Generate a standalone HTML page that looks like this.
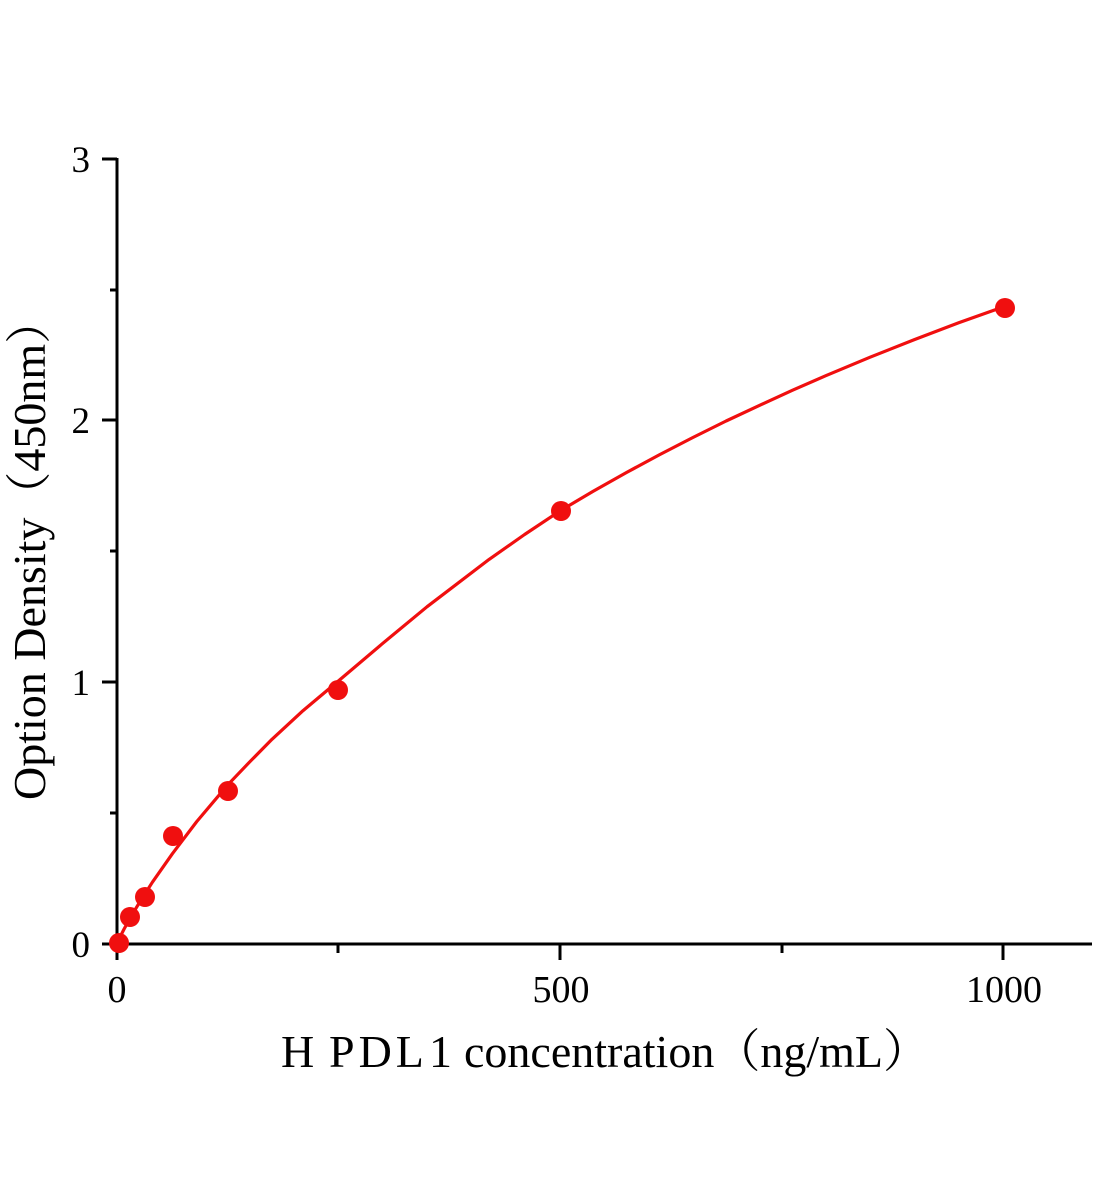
<!DOCTYPE html>
<html>
<head>
<meta charset="utf-8">
<style>
  html, body { margin: 0; padding: 0; background: #fff; }
  svg { display: block; }
  text { font-family: "Liberation Serif", "Noto Serif CJK SC", "Noto Sans CJK SC", serif; fill: #000; }
</style>
</head>
<body>
<svg width="1104" height="1200" viewBox="0 0 1104 1200" xmlns="http://www.w3.org/2000/svg">
  <rect width="1104" height="1200" fill="#fff"/>

  <!-- axes -->
  <g stroke="#000" stroke-width="3" fill="none">
    <line x1="117" y1="158" x2="117" y2="945"/>
    <line x1="102" y1="944" x2="1092" y2="944"/>
    <!-- y major ticks -->
    <line x1="102" y1="159" x2="117" y2="159"/>
    <line x1="102" y1="420" x2="117" y2="420"/>
    <line x1="102" y1="682" x2="117" y2="682"/>
    <!-- y minor ticks -->
    <line x1="110" y1="290" x2="117" y2="290"/>
    <line x1="110" y1="551" x2="117" y2="551"/>
    <line x1="110" y1="813" x2="117" y2="813"/>
    <!-- x major ticks -->
    <line x1="117" y1="944" x2="117" y2="960"/>
    <line x1="560" y1="944" x2="560" y2="960"/>
    <line x1="1003" y1="944" x2="1003" y2="960"/>
    <!-- x minor ticks -->
    <line x1="338" y1="944" x2="338" y2="953"/>
    <line x1="782" y1="944" x2="782" y2="953"/>
  </g>

  <!-- y tick labels -->
  <g font-size="37" text-anchor="end">
    <text x="90" y="172">3</text>
    <text x="90" y="433">2</text>
    <text x="90" y="695">1</text>
    <text x="90" y="957">0</text>
  </g>

  <!-- x tick labels -->
  <g font-size="38" text-anchor="middle">
    <text x="117" y="1002">0</text>
    <text x="561" y="1002">500</text>
    <text x="1004" y="1002">1000</text>
  </g>

  <!-- x axis title -->
  <g font-size="46">
    <text x="281" y="1067">H</text>
    <text x="329" y="1067" letter-spacing="4">PDL</text>
    <text x="429" y="1067">1</text>
    <text x="464" y="1067">concentration（ng/mL）</text>
  </g>

  <!-- y axis title -->
  <text font-size="46" transform="translate(45,800) rotate(-90)">Option Density（450nm）</text>

  <!-- fitted curve -->
  <polyline fill="none" stroke="#f00f0f" stroke-width="3.2" stroke-linejoin="round" stroke-linecap="round"
    points="117,944 119.7,937.7 124.1,929 130.8,916.8 139.2,902.9 152.4,882.2 172.4,853.7 196.7,821.6 227.8,784.8 249.9,761.7 272,739.3 303.1,710.6 338.5,680.9 382.8,643.3 427.1,606.7 489.1,559.4 524.6,534.5 560,510.9 593.2,491.3 626.5,472.5 659.7,454.6 692.9,437.5 726.1,421 759.4,405.4 792.6,390.2 825.8,375.7 870.1,357.2 914.4,339.6 958.7,322.8 1003,307"/>

  <!-- data points -->
  <g fill="#f00f0f">
    <circle cx="119" cy="943" r="10"/>
    <circle cx="130" cy="917" r="10"/>
    <circle cx="145" cy="897" r="10"/>
    <circle cx="173" cy="836" r="10"/>
    <circle cx="228" cy="791" r="10"/>
    <circle cx="338" cy="690" r="10"/>
    <circle cx="561" cy="511" r="10"/>
    <circle cx="1005" cy="308" r="10"/>
  </g>
</svg>
</body>
</html>
